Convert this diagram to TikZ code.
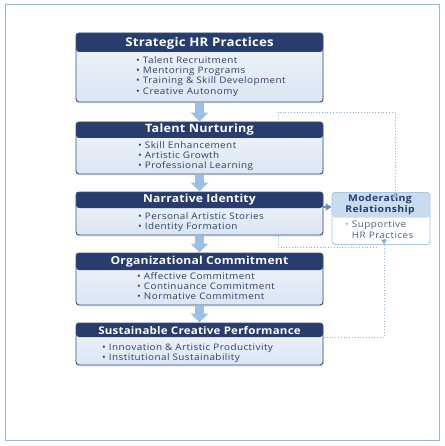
\documentclass[tikz,border=0pt]{standalone}
\usepackage{fontspec}
\setmainfont{Open Sans}
\newfontfamily\itemfont[FakeStretch=1.1,LetterSpace=5]{Open Sans}
\newfontfamily\hdrfont[FakeStretch=1.1,LetterSpace=2]{Open Sans}
\newfontfamily\modfont[FakeStretch=1.12,LetterSpace=4]{Open Sans}
\usetikzlibrary{arrows.meta,shadows}
\definecolor{navy}{HTML}{283C6E}
\definecolor{boxline}{HTML}{3A4F80}
\definecolor{bodytop}{HTML}{F1F5FB}
\definecolor{bodybot}{HTML}{DAE6F3}
\definecolor{itemcol}{HTML}{2F3F6A}
\definecolor{arrowcol}{HTML}{9CBFE2}
\definecolor{dotcol}{HTML}{8DB2D6}
\definecolor{framecol}{HTML}{9AB8CC}
\definecolor{modhead}{HTML}{C9DCEF}
\definecolor{modline}{HTML}{A9C6E3}
\definecolor{modarrow}{HTML}{5B8FC9}
\begin{document}
\begin{tikzpicture}[x=1pt,y=-1pt,
  box/.style={draw=boxline, line width=0.9pt, rounded corners=3pt,
    top color=bodytop, bottom color=bodybot, minimum width=247pt,
    drop shadow={opacity=0.18, shadow xshift=0.8pt, shadow yshift=-1.5pt},
    path picture={\fill[navy] (path picture bounding box.north west) rectangle ([yshift=-#1]path picture bounding box.north east);}},
  hdrtxt/.style={text=white, font=\hdrfont\fontsize{#1}{12}\selectfont\bfseries, inner sep=0pt},
  items/.style={text=itemcol, font=\itemfont\fontsize{9}{10.4}\selectfont, align=left, inner sep=0pt, anchor=north west},
  blockarr/.style={draw=arrowcol, line width=9pt, -{Triangle[width=17pt,length=9pt]}, shorten <=0.5pt},
  dotconn/.style={draw=dotcol, line width=0.8pt, dotted},
  modbox/.style={draw=modline, line width=0.9pt, rounded corners=3pt, fill=white,
    minimum width=98pt, minimum height=52pt,
    path picture={\fill[modhead] (path picture bounding box.north west) rectangle ([yshift=-25pt]path picture bounding box.north east);}},
]
\useasboundingbox (0,0) rectangle (444,446);
\fill[white] (0,0) rectangle (444,446);
\draw[framecol, line width=1pt] (5,5) rectangle (439,440);

% boxes
\node[box=19pt, minimum height=69pt] (b1) at (199.5,67.5) {};
\node[box=16pt, minimum height=52pt] (b2) at (199.5,148) {};
\node[box=16pt, minimum height=43pt] (b3) at (199.5,213.5) {};
\node[box=17pt, minimum height=52pt] (b4) at (199.5,279) {};
\node[box=14pt, minimum height=42pt] (b5) at (199.5,344) {};

% headers
\node[hdrtxt=12] (h1) at (199.5,43) {Strategic HR Practices};
\node[hdrtxt=11.5] (h2) at (199.5,130) {Talent Nurturing};
\node[hdrtxt=11] (h3) at (199.5,200) {Narrative Identity};
\node[hdrtxt=11] (h4) at (199.5,262) {Organizational Commitment};
\node[hdrtxt=10.5] (h5) at (199.5,330.5) {Sustainable Creative Performance};

% items
\node[items] (i1) at (136,56) {• Talent Recruitment\\• Mentoring Programs\\• Training \& Skill Development\\• Creative Autonomy};
\node[items] (i2) at (138,141) {• Skill Enhancement\\• Artistic Growth\\• Professional Learning};
\node[items] (i3) at (138,212) {• Personal Artistic Stories\\• Identity Formation};
\node[items] (i4) at (137,272) {• Affective Commitment\\• Continuance Commitment\\• Normative Commitment};
\node[items] (i5) at (102,343) {• Innovation \& Artistic Productivity\\• Institutional Sustainability};

% moderating box
\node[modbox] (mod) at (381,218.5) {};
\node[text=navy, font=\modfont\fontsize{9.3}{11}\selectfont\bfseries, align=center, inner sep=0pt] (mh) at (380,205) {Moderating\\Relationship};
\node[items, text=itemcol!85!white] (mi) at (345,221) {\textcolor{dotcol}{•} Supportive\\\phantom{•} HR Practices};

% block arrows
\draw[blockarr] (b1.south) -- (b2.north);
\draw[blockarr] (b2.south) -- (b3.north);
\draw[blockarr] (b3.south) -- (b4.north);
\draw[blockarr] (b4.south) -- (b5.north);

% moderating arrow
\draw[modarrow, line width=1.6pt, -{Triangle[length=6pt,width=7pt]}] (b3.east |- 0,207) -- (mod.west |- 0,207);

% dotted connectors
\coordinate (s2) at (278,121.5);
\coordinate (t2) at (278,112);
\coordinate (m1) at (395,192.5);
\draw[dotconn] (s2) -- (t2) -| ([yshift=-4pt]m1);
\draw[dotcol, line width=0.8pt, -{Triangle[length=5pt,width=6pt]}] ([yshift=-5pt]m1) -- (m1);

\coordinate (s3) at (278,235.5);
\coordinate (t3) at (278,247);
\coordinate (e3) at (377,247);
\draw[dotconn] (s3) -- (t3) -- (e3);

\coordinate (s5) at (324,337);
\coordinate (m2) at (384,244.5);
\draw[dotconn] (s5) -| ([yshift=5pt]m2);
\draw[dotcol, line width=0.8pt, -{Triangle[length=5pt,width=6pt]}] ([yshift=6pt]m2) -- (m2);
\end{tikzpicture}
\end{document}
